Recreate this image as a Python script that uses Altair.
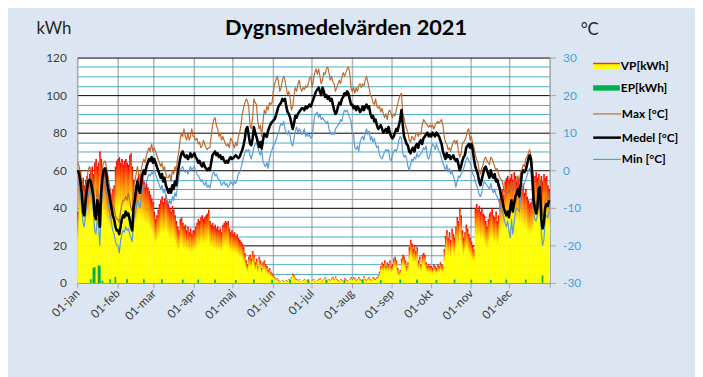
import json
import altair as alt
import pandas as pd

# ---------------- data ----------------
MONTHS = ["jan", "feb", "mar", "apr", "maj", "jun", "jul", "aug", "sep", "okt", "nov", "dec"]
MONTH_START = [0, 31, 59, 90, 120, 151, 181, 212, 243, 273, 304, 334]

# VP [kWh] per day
VP = [
    38, 58, 60, 54, 56, 52, 55, 57, 54, 58, 60, 62, 58, 64, 66, 62, 64, 70, 66, 62, 60, 58, 56, 52, 50, 48, 47, 50, 52, 62, 65,
    66, 67, 64, 66, 63, 65, 66, 64, 63, 68, 69, 62, 55, 48, 52, 56, 58, 57, 58, 56, 54, 52, 53, 51, 49, 47, 45, 43,
    38, 34, 36, 39, 42, 44, 46, 43, 45, 47, 44, 42, 40, 38, 41, 39, 36, 33, 30, 28, 34, 35, 32, 30, 31, 28, 30, 27, 29, 26, 28,
    28, 30, 32, 34, 33, 35, 36, 34, 35, 36, 37, 39, 33, 31, 32, 30, 31, 29, 30, 28, 29, 27, 31, 32, 33, 32, 33, 29, 27, 28,
    26, 27, 25, 26, 24, 23, 22, 21, 19, 16, 12, 10, 14, 15, 13, 17, 15, 11, 13, 9, 14, 12, 8, 11, 12, 10, 9, 7, 8, 6, 5,
    4, 3, 2, 2.5, 1.5, 1, 0.5, 1.5, 1, 0, 1.5, 1, 2, 1.5, 3, 5, 4, 2.5, 2, 1.5, 2, 1, 0.5, 1.5, 2, 1, 1.5, 2, 1, 0.5,
    1.5, 2, 1, 0.5, 1.5, 2, 2.5, 1, 1.5, 2, 3, 1.5, 1, 2, 1.5, 2.5, 3, 2, 3.5, 2, 1.5, 1, 2, 1.5, 1, 2.5, 2, 1.5, 1, 2, 3,
    2, 3, 2.5, 1.5, 2, 3, 2, 1.5, 2, 3.5, 2, 1.5, 2.5, 3, 2, 1.5, 3, 2.5, 2, 3, 4, 6, 9, 11, 10, 12, 9, 11, 10, 12, 9,
    10, 13, 14, 12, 8, 6, 7, 13, 15, 14, 12, 9, 11, 19, 23, 21, 18, 20, 17, 19, 12, 14, 10, 15, 16, 15, 11, 9, 10, 9,
    9, 8, 10, 9, 8, 10, 9, 11, 10, 9, 18, 25, 28, 24, 27, 23, 29, 26, 24, 30, 35, 33, 40, 36, 28, 24, 27, 31, 29, 26, 24,
    22, 20, 18, 40, 42, 39, 41, 38, 40, 37, 36, 33, 30, 34, 37, 38, 40, 36, 35, 38, 33, 36, 45, 48, 50, 47, 54, 56, 57, 55,
    56, 58, 55, 59, 57, 54, 56, 52, 55, 50, 53, 48, 50, 46, 44, 42, 43, 45, 50, 57, 59, 56, 58, 55, 57, 54, 58, 56, 57, 52, 50,
]

# EP [kWh]: days with a value and their values
EP_DAYS = [10, 12, 13, 16, 17, 19, 25, 29, 38, 51, 65, 81, 93, 106, 122, 136, 150, 164,
           178, 192, 206, 220, 234, 249, 262, 277, 291, 304, 319, 331, 346, 359]
EP_VALUES = [2, 8, 8.5, 9.5, 9, 1.2, 2, 3.2, 2, 2, 2, 1.8, 1.8, 1.8, 1.6, 1.8, 1.8, 1.8,
             1.6, 1.8, 1.6, 1.8, 1.6, 1.8, 1.8, 1.6, 1.8, 1.8, 1.6, 1.8, 1.8, 4]

# Max [C]
T_MAX = [
    2, 1, -1, -3, -8, -9, -5, -2, 0, 1, 0, -2, -4, -9, -10, -5, -7, -12, -2, 1, 2, 2.5, 1, -1, -3, -5, -7, -9, -10, -12, -13,
    -13, -14, -11, -9, -8, -8, -7, -8, -6, -8, -10, -11, -5, -3, -1, 1, -1, -2, 0, 2, 3, 2, 4, 5, 6, 5, 7, 5,
    6, 5, 4, 3, 2, 1, 2, 0, 1, -1, -2, -2, -1, -3, 0, -1, 1, 0, 3, 5, 8, 10, 9, 11, 9, 8, 10, 8, 9, 11, 9,
    9, 8, 8.5, 7, 7.5, 6, 6.5, 8, 7, 6, 5.5, 6, 6, 9, 12, 13.5, 14, 12, 11, 9, 10, 8, 9, 8, 7, 6.5, 7, 6, 8.5, 8,
    7, 6, 7.5, 6.5, 9, 10, 12, 15, 16.5, 18, 19, 18.5, 17, 12, 11, 14, 19, 18, 17.5, 13, 11, 12, 9, 13, 16, 15, 17, 16, 18, 17.5, 18,
    21, 23, 24, 25, 23.5, 21, 22, 24, 25, 24, 22, 20, 21, 19, 16, 17, 20, 22, 21, 23, 24, 22, 21, 22, 21.5, 22.5, 22, 23, 24.5, 25,
    22, 24, 26, 27, 25.5, 27, 25, 23, 24, 26, 25.5, 27, 27.5, 26, 24, 25, 23.5, 23, 21, 22, 23, 24, 23, 25, 26, 25, 26, 27, 27.5, 26, 22,
    21, 22, 20.5, 22, 21, 22.5, 23, 22, 23, 22.5, 24, 25, 23.5, 22, 20, 19.5, 18, 17.5, 19, 17, 16.5, 17, 15.5, 16.5, 15, 14, 15, 13.5, 15.5, 16, 15,
    14, 15, 14.5, 16, 17.5, 19, 20, 20.5, 15, 14, 12, 11, 10, 8, 7.5, 9, 8.5, 8, 9.5, 10, 9, 10, 9.5, 12, 13.5, 13, 12.5, 12, 11.5, 12,
    11.5, 12, 11, 12, 12.5, 13, 12.5, 13, 13.5, 12, 9, 7.5, 7, 5.5, 6, 5, 6.5, 7.5, 8, 7, 8, 5, 3.5, 4.5, 7, 7.5, 8, 9, 10.5, 11, 8,
    9, 7, 6, 4, 3, 2, 0, -1, 0.5, 1.5, 3, 3.5, 2.5, 2, 1.5, 3.5, 3, 2, 1, 0, 0.5, -1, -2, -2.5, -3, -5, -6, -6.5, -5, -6,
    -5, -3, -5.5, -4, -3, -2, -1.5, -3, -0.5, 0, 1.5, 1, 3, 3.5, 4.5, 5.5, 4, 2, -3, -8, -10, -8, -3, -2.5, -7, -12, -13, -8, -7.5, -7, -6,
]

# Medel [C]
T_MEDEL = [
    0, -1, -3, -6, -11, -12, -8, -5, -3, -2.5, -3, -5, -7, -12, -13, -8, -10, -15, -6, -2, 0, 0.5, -1, -4, -6, -8, -10, -12, -13, -15, -16,
    -16, -17, -15, -13, -12, -12.5, -11, -12, -11.5, -13, -15, -16, -10, -8, -5, -3, -5, -6, -3, -1, 0, -1, 1, 2, 3, 2.5, 3.5, 2,
    3, 2, 1, 0, -1, -2, -1, -3, -2, -4, -5, -6, -5, -6, -4, -5, -3, -4, -1, 1, 3, 4.5, 5, 4, 3.5, 4, 3, 3.5, 4.5, 3.5, 4,
    4.5, 3.5, 3, 2, 2.5, 1.5, 1, 2, 1, 0.5, 0, 0.5, 0, 2, 4, 4.5, 5, 4, 4.5, 3.5, 4, 3, 3.5, 2.5, 2, 2.5, 2, 3, 3.5, 3,
    3.2, 3.6, 4, 3.6, 3.2, 3.6, 4.5, 5.4, 6.7, 8.4, 11, 11.5, 9.3, 7.1, 6.7, 8.4, 11.5, 10, 8.9, 7.5, 6.2, 7.5, 5.8, 8, 9.7, 9.3, 8.9, 10.6, 11.5, 12.4, 12.8,
    13.2, 13.6, 14.5, 15.8, 17, 17.5, 18, 19, 18.5, 19, 17, 15.5, 15, 14, 12.5, 11, 12.5, 14.5, 14, 15, 15.5, 16, 16.5, 16.5, 16, 17, 16.5, 17, 17.5, 17,
    18, 19, 20, 21, 21.5, 22, 21, 20, 22, 21, 19.5, 20, 19, 19.5, 18.5, 19, 17.5, 16, 15, 15.5, 17, 18, 17.5, 19, 19.5, 20.5, 20, 21, 20.5, 19, 17.5,
    17.5, 16.5, 17, 16, 17, 16.5, 15.5, 16, 17, 16, 17, 17.5, 16.5, 17, 15, 14, 14.5, 13, 13.5, 12, 11, 11.5, 12, 11, 10, 10.5, 11, 10, 11.5, 10, 9,
    8.5, 9, 10, 11, 10.5, 12, 13.5, 16, 12, 9, 8, 7, 6.5, 5, 4.5, 5.5, 6, 5, 6.5, 7, 6, 7.5, 8, 7, 8.5, 9, 9.5, 10, 9, 9.5,
    9, 10, 9.5, 9, 10, 9.5, 9, 8, 7, 5, 4, 3, 4.5, 3.5, 4, 3, 3.5, 4, 3, 2.5, 3, 1.5, 0, 1, 2.5, 3.5, 4, 6, 6.5, 7, 6,
    7, 5.5, 3, 1, 0, -1, -3, -4, -2.5, -1, 0.5, 1, 0, -1, -2, 0, -1.5, -2, -1, -3, -2.5, -4, -5, -7, -8, -10, -11, -12, -11, -12.5,
    -10, -8, -11, -9, -7, -6, -5, -7, -4, -1, 0, -0.5, 0, 1.5, 3, 4, 3, -1, -8, -10, -11.5, -10, -5, -4.5, -13, -15.5, -14, -10, -9, -9.5, -8,
]

# Min [C]
T_MIN = [
    -3, -4, -6, -10, -14, -15, -12, -9, -6, -5, -6, -8, -11, -16, -17, -13, -15, -20, -11, -5, -3, -2, -4, -8, -10, -12, -14, -16, -17, -19, -20,
    -20, -22, -19, -17, -16, -16.5, -15, -16, -15.5, -17, -18, -19, -14, -12, -10, -8, -9, -10, -7, -5, -4, -4.5, -3, -2, -1, -1.5, -0.5, -1,
    0, -1, -2, -3, -4, -5, -4, -6, -5, -7, -8, -9, -8, -9, -7, -8, -6, -7, -4, -2, 0, 0.5, 1, 0, -0.5, 0, -1, 0, 1, 0, 0.5,
    1, 0, -1, -1.5, -2, -3, -2.5, -3.5, -4, -3, -4.5, -4, -4.7, -3, -1, -0.5, -1.5, -1, -2, -2.5, -3, -4, -3.5, -3, -4, -3.5, -4.5, -4, -3, -3.5,
    -4, -3, -3.5, -2.5, -1, -0.5, 0.5, 2, 3.5, 4.5, 5.5, 5, 5.5, 4, 3, 4.5, 6, 7, 7.5, 6, 5, 4, 5.5, 2.5, 1.5, 1, 2, 0.5, 3, 4.5, 5.5,
    6.5, 7, 8, 9, 10, 11.5, 12.5, 12, 13, 11, 10, 9.5, 10.5, 9, 7, 6.5, 8.5, 10.5, 11.5, 10, 11, 10.5, 9.5, 10, 11, 9, 10, 9, 9.5, 8.5,
    9, 12, 14.5, 15, 15.5, 14, 15, 13.5, 14, 13.5, 13, 12.5, 13, 11, 10, 9.5, 10, 9.5, 11, 11.5, 12, 12.5, 13.5, 13, 15, 16, 15.5, 16, 15, 14, 13,
    10, 9.5, 6, 5.5, 6.5, 5, 7.5, 8.5, 9, 8, 10, 11, 9.5, 10.5, 8, 9, 7.5, 8.5, 7, 6, 6.5, 4, 3.5, 3, 4, 5, 5.5, 5, 5.5, 3, 2.5,
    4, 5, 5.5, 5, 6, 8, 9, 8.5, 4.5, 3.5, 4, 3, 1, 0, 1.5, 3, 2.5, 3.5, 3, 4.5, 3.5, 4, 4.5, 5, 6, 5.5, 6.5, 3.5, 3, 4,
    6, 7, 6.5, 5.5, 7, 6, 5, 4.5, 3, 2, 1, 0, 1.5, -0.5, 0.5, -1, 0, -1.5, -2.5, -4.5, -3, -1.5, -2, -1, -0.5, 0.5, 1.5, 3, 3.5, 2.5, 2,
    1, -1, -1.5, -3, -4, -5, -6.5, -7, -6, -4, -3, -3.5, -4, -4.5, -5, -3.5, -5, -6, -5, -6.5, -7, -8, -9, -10.5, -11, -12.5, -14, -15, -13.5, -16,
    -18, -13, -17, -14, -11, -10, -10.5, -11, -7, -5, -4, -3.5, -2.5, -1.5, 0, 0.5, -1, -4, -11, -13, -13.5, -12, -8, -7, -17, -20, -18.5, -13, -12, -12.5, -11,
]

TITLE = "Dygnsmedelvärden 2021"
LEGEND_LABELS = ["VP[kWh]", "EP[kWh]", "Max [°C]", "Medel [°C]", "Min [°C]"]

# ---------------- styling ----------------
FONT = "Lato"
W, H = 478, 228
BG = "#dce6f2"
GRID_BLUE = "#4bacc6"
C_MAX = "#c0692c"
C_MIN = "#5b9bd5"
C_EP = "#00b050"
AX_GRAY = "#a6a6a6"
TXT = "#404040"

df = pd.DataFrame({"d": list(range(365)), "VP": VP, "Max": T_MAX, "Medel": T_MEDEL, "Min": T_MIN})
ep_df = pd.DataFrame({"d": EP_DAYS, "EP": EP_VALUES})

x_scale = alt.Scale(domain=[0, 365], nice=False, zero=False)
label_expr = ("datum.value >= 365 ? '' : '01-' + " + json.dumps(MONTHS)
              + "[indexof(" + json.dumps(MONTH_START) + ", datum.value)]")
x_axis = alt.Axis(values=MONTH_START + [365], tickCount=100, labelExpr=label_expr, labelAngle=-45,
                  labelAlign="right", labelBaseline="middle", labelPadding=3,
                  labelFlush=False, labelOverlap=False, labelFont=FONT, labelFontSize=12,
                  labelColor=TXT, grid=True, gridColor="#b4b4b4", gridWidth=1.5,
                  tickColor=AX_GRAY, tickSize=5, domainColor=AX_GRAY, title=None)

kwh_scale = alt.Scale(domain=[0, 120], nice=False, zero=True)
kwh_axis = alt.Axis(values=list(range(0, 121, 5)), tickCount=100,
                    labelExpr="datum.value % 20 === 0 ? datum.label : ''",
                    labelOverlap=False, labelFlush=False,
                    grid=True, gridWidth=1,
                    gridColor={"condition": {"test": "datum.value % 20 === 0", "value": "#000000"},
                               "value": GRID_BLUE},
                    ticks=False, tickSize=0, domainColor=AX_GRAY, labelPadding=11,
                    labelFont=FONT, labelFontSize=12, labelColor=TXT,
                    titleAngle=0, titleX=-24, titleY=-29, titleAlign="center",
                    titleBaseline="middle", titleFont=FONT, titleFontSize=17,
                    titleFontWeight="normal", titleColor="#262626")

t_scale = alt.Scale(domain=[-30, 30], nice=False, zero=False)
t_axis = alt.Axis(orient="right", values=[-30, -20, -10, 0, 10, 20, 30], tickCount=100, grid=False,
                  labelExpr="'' + datum.value", tickColor=AX_GRAY, tickSize=6,
                  domainColor=AX_GRAY, labelPadding=7, labelFont=FONT, labelFontSize=12,
                  labelColor="#3fa4d4", labelFlush=False, labelOverlap=False,
                  titleAngle=0, titleX=40, titleY=-28, titleAlign="center",
                  titleBaseline="middle", titleFont=FONT, titleFontSize=17,
                  titleFontWeight="normal", titleColor="#262626")

fire = alt.Gradient(gradient="linear", x1=0, y1=0, x2=0, y2=1, stops=[
    alt.GradientStop(color="#f00000", offset=0),
    alt.GradientStop(color="#ff3300", offset=0.07),
    alt.GradientStop(color="#ff8c00", offset=0.2),
    alt.GradientStop(color="#ffff00", offset=0.4),
    alt.GradientStop(color="#ffff00", offset=1),
])

vp = alt.Chart(df).transform_calculate(x0="datum.d", x1="datum.d + 1.25").mark_bar(
    fill=fire, strokeWidth=0).encode(
    x=alt.X("x0:Q", scale=x_scale, axis=x_axis),
    x2="x1:Q",
    y=alt.Y("VP:Q", scale=kwh_scale, axis=kwh_axis, title="kWh"),
    y2=alt.datum(0),
)
ep = alt.Chart(ep_df).transform_calculate(x0="datum.d - 0.15", x1="datum.d + 1.15").mark_bar(
    fill=C_EP, strokeWidth=0).encode(
    x=alt.X("x0:Q", scale=x_scale, title=None),
    x2="x1:Q",
    y=alt.Y("EP:Q", scale=kwh_scale, title="kWh"),
    y2=alt.datum(0),
)
kwh = alt.layer(vp, ep)


def tline(field, color, width, axis=None):
    yenc = alt.Y(field + ":Q", scale=t_scale, title="°C")
    if axis is not None:
        yenc = alt.Y(field + ":Q", scale=t_scale, axis=axis, title="°C")
    return alt.Chart(df).transform_calculate(xm="datum.d + 0.5").mark_line(
        color=color, strokeWidth=width, strokeJoin="round").encode(
        x=alt.X("xm:Q", scale=x_scale, title=None), y=yenc)


temps = alt.layer(tline("Max", C_MAX, 1.2, t_axis), tline("Min", C_MIN, 1.2),
                  tline("Medel", "#000000", 2.6))

one = pd.DataFrame({"k": [0]})


def text(label, x, y, size, weight="bold", align="left", color="#000000"):
    return alt.Chart(one).mark_text(font=FONT, fontSize=size, fontWeight=weight,
                                    align=align, baseline="middle", color=color).encode(
        x=alt.value(x), y=alt.value(y), text=alt.value(label))


def rule(x1, x2, y, color, width):
    return alt.Chart(one).mark_rule(color=color, strokeWidth=width).encode(
        x=alt.value(x1), x2=alt.value(x2), y=alt.value(y))


def box(x1, x2, y1, y2, color):
    return alt.Chart(one).mark_rect(fill=color).encode(
        x=alt.value(x1), x2=alt.value(x2), y=alt.value(y1), y2=alt.value(y2))


LX1, LX2 = 522, 549
deco = [
    text(TITLE, 272, -30, 22, align="center"),
    box(LX1, LX2, 6, 11.5, "#ffff00"),
    rule(LX1, LX2, 6, "#ff3000", 1.5),
    box(LX1, LX2, 28, 33.5, C_EP),
    rule(LX1, LX2 + 1, 57, C_MAX, 1.2),
    rule(LX1, LX2 + 1, 81, "#000000", 2.5),
    rule(LX1, LX2 + 1, 103, C_MIN, 1.2),
    text(LEGEND_LABELS[0], 550, 9, 12),
    text(LEGEND_LABELS[1], 550, 31, 12),
    text(LEGEND_LABELS[2], 551, 57, 12),
    text(LEGEND_LABELS[3], 551, 81, 12),
    text(LEGEND_LABELS[4], 551, 103, 12),
]

chart = alt.layer(kwh, temps, *deco).resolve_scale(y="independent").properties(
    width=W, height=H, background=BG,
    padding={"left": 70, "top": 48, "right": 147, "bottom": 93},
    autosize=alt.AutoSizeParams(type="none"),
).configure_view(fill="white", stroke="transparent")

chart.save("out.html", embed_options={"renderer": "svg", "actions": False})
